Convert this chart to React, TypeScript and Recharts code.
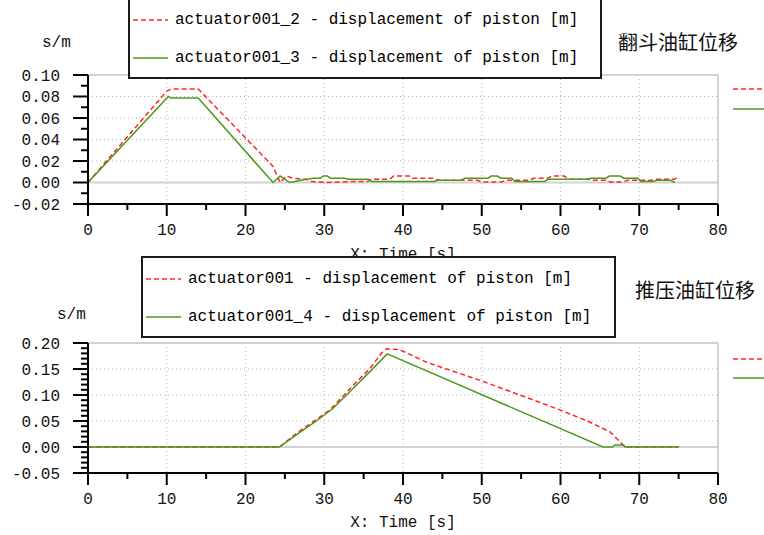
import React from 'react';
import { LineChart, Line, XAxis, YAxis, CartesianGrid, Legend } from 'recharts';

const MONO = '"Liberation Mono", "DejaVu Sans Mono", monospace';
const CJK = '"Noto Sans CJK SC", "Noto Sans", sans-serif';

const RED = '#ff2626';
const GREEN = '#4c9a1c';

// shared time axis
const xMajorTicks = [0, 10, 20, 30, 40, 50, 60, 70, 80];
const xMinorTicks = [5, 15, 25, 35, 45, 55, 65, 75];

// 翻斗油缸位移 (top panel)
const tipYMajor = [-0.02, 0, 0.02, 0.04, 0.06, 0.08, 0.1];
const tipYMinor = [-0.01, 0.01, 0.03, 0.05, 0.07, 0.09];

const tipRedTime = [0, 10, 10.6, 14, 23.5, 24.4, 25.2, 26, 27.7, 28.3, 30.4, 34, 35.5, 36, 38.3, 38.8, 40.8, 41.2, 44, 44.5, 49.5, 50, 52.5, 53, 56, 56.6, 58.4, 58.9, 60.5, 61, 63.5, 64, 65.8, 66.3, 68, 68.5, 71.5, 72, 74.5, 75];
const tipRedDisp = [0, 0.085, 0.087, 0.087, 0.015, 0, 0.006, 0.004, 0.003, 0.001, 0, 0.001, 0.001, 0.003, 0.003, 0.006, 0.006, 0.004, 0.004, 0.002, 0.002, 0.0005, 0.0005, 0.002, 0.002, 0.004, 0.004, 0.006, 0.006, 0.003, 0.003, 0.002, 0.002, 0.0005, 0.0005, 0.002, 0.002, 0.003, 0.003, 0.006];

const tipGreenTime = [0, 10.2, 10.6, 14, 23.5, 24.4, 25.6, 26.3, 27, 28.6, 29.5, 29.9, 30.4, 30.8, 32.6, 33, 35.6, 36, 44, 44.4, 47.4, 47.8, 50.8, 51.2, 52, 52.4, 53.8, 54.2, 58, 58.4, 63.4, 63.8, 65.8, 66.2, 67.6, 68, 69.8, 70.2, 71.8, 72.2, 74, 74.5];
const tipGreenDisp = [0, 0.08, 0.0785, 0.0785, 0, 0.006, 0, 0.001, 0.002, 0.004, 0.004, 0.006, 0.006, 0.004, 0.004, 0.003, 0.003, 0.001, 0.001, 0.002, 0.002, 0.004, 0.004, 0.006, 0.006, 0.004, 0.004, 0.001, 0.001, 0.003, 0.003, 0.004, 0.004, 0.006, 0.006, 0.004, 0.004, 0.001, 0.001, 0.002, 0.002, 0];

// 推压油缸位移 (bottom panel)
const pushYMajor = [-0.05, 0, 0.05, 0.1, 0.15, 0.2];
const pushYMinor = [-0.04, -0.03, -0.02, -0.01, 0.01, 0.02, 0.03, 0.04, 0.06, 0.07, 0.08, 0.09, 0.11, 0.12, 0.13, 0.14, 0.16, 0.17, 0.18, 0.19];

const pushRedTime = [0, 24.3, 26.9, 29, 30.7, 33.7, 35.8, 37.3, 37.9, 39.6, 43, 50, 55, 60, 63.7, 66.3, 68, 68.4, 75];
const pushRedDisp = [0, 0, 0.031, 0.053, 0.071, 0.119, 0.151, 0.181, 0.189, 0.187, 0.163, 0.127, 0.099, 0.071, 0.048, 0.029, 0.003, 0, 0];

const pushGreenTime = [0, 24.3, 26.9, 29, 31.1, 33.7, 35.8, 38, 65.4, 66.6, 66.9, 68, 68.2, 75];
const pushGreenDisp = [0, 0, 0.028, 0.05, 0.074, 0.113, 0.145, 0.179, 0, 0, 0.004, 0.004, 0, 0];

const toPoints = (time: number[], disp: number[]) => time.map((t, i) => ({ t, v: disp[i] }));

const isMajor = (list: number[], v: number) => list.some((m) => Math.abs(m - v) < 1e-9);

const YTick = ({ x, y, payload, majors }: any) => {
  const major = isMajor(majors, payload.value);
  return (
    <g>
      <line x1={x - (major ? 15 : 7)} y1={y} x2={x} y2={y} stroke="#000" strokeWidth={2} />
      {major && (
        <text x={x - 28} y={y} dy="0.35em" textAnchor="end" fontFamily={MONO} fontSize={16} fill="#111">
          {payload.value.toFixed(2)}
        </text>
      )}
    </g>
  );
};

const XTick = ({ x, y, payload }: any) => {
  const major = isMajor(xMajorTicks, payload.value);
  return (
    <g>
      <line x1={x} y1={y} x2={x} y2={y + (major ? 12 : 6)} stroke="#000" strokeWidth={2} />
      {major && (
        <text x={x} y={y + 25} dy="0.35em" textAnchor="middle" fontFamily={MONO} fontSize={16} fill="#111">
          {payload.value}
        </text>
      )}
    </g>
  );
};

const BoxLegend = ({ payload, box, stubTop, stubGap }: any) => (
  <div style={{ position: 'relative', width: '100%', height: '100%' }}>
    <div
      style={{
        position: 'absolute',
        left: box.left,
        top: box.top,
        width: box.width,
        height: box.height,
        border: '2px solid #1a1a1a',
        background: '#fff',
        boxSizing: 'border-box',
      }}
    >
      {(payload || []).map((entry: any, i: number) => (
        <div key={entry.value} style={{ position: 'absolute', left: 0, top: 11 + i * 38, height: 20, width: '100%' }}>
          <svg width={36} height={20} style={{ position: 'absolute', left: 3, top: 0 }}>
            <line x1={0} y1={10} x2={35} y2={10} stroke={entry.color} strokeWidth={1.5} strokeDasharray={entry.color === RED ? '5 3' : undefined} />
          </svg>
          <span style={{ position: 'absolute', left: 45, top: 0, lineHeight: '20px', fontFamily: MONO, fontSize: 16, color: '#000', whiteSpace: 'nowrap' }}>
            {entry.value}
          </span>
        </div>
      ))}
    </div>
    {(payload || []).map((entry: any, i: number) => (
      <svg key={'stub' + i} width={31} height={6} style={{ position: 'absolute', left: 733, top: stubTop + i * stubGap - 3 }}>
        <line x1={0} y1={3} x2={31} y2={3} stroke={entry.color} strokeWidth={1.5} strokeDasharray={entry.color === RED ? '5 3' : undefined} />
      </svg>
    ))}
  </div>
);

const Panel = ({ top, height, plotTop, axisHeight, yDomain, yMajor, yMinor, red, green, title, titleTop, titleLeft, unitTop, unitLeft, box, stubTop, stubGap, labelOffset }: any) => {
  const yTicks = [...yMajor, ...yMinor].sort((a, b) => a - b);
  const dotted = yMajor.filter((v: number) => v > 0 && v < yDomain[1] - 1e-9);
  return (
    <div style={{ position: 'absolute', left: 0, top, width: 764, height }}>
      <LineChart width={764} height={height} margin={{ top: plotTop, right: 46, left: 0, bottom: 0 }}>
        <CartesianGrid stroke="#b4b4b4" strokeDasharray="1 3" horizontalValues={dotted} verticalValues={[10, 20, 30, 40, 50, 60, 70]} />
        <CartesianGrid stroke="#d2d2d2" strokeWidth={2} horizontalValues={[0, yDomain[1]]} verticalValues={[80]} />
        <XAxis
          dataKey="t"
          type="number"
          domain={[0, 80]}
          ticks={[...xMajorTicks, ...xMinorTicks].sort((a, b) => a - b)}
          interval={0}
          height={axisHeight}
          tickSize={0}
          tickMargin={0}
          tickLine={false}
          axisLine={{ stroke: '#000', strokeWidth: 2 }}
          tick={<XTick />}
          label={{ value: 'X: Time [s]', position: 'insideBottom', offset: labelOffset, fontFamily: MONO, fontSize: 16, fill: '#111' }}
        />
        <YAxis
          type="number"
          domain={yDomain}
          ticks={yTicks}
          interval={0}
          width={88}
          tickSize={0}
          tickMargin={0}
          tickLine={false}
          axisLine={{ stroke: '#000', strokeWidth: 2 }}
          tick={<YTick majors={yMajor} />}
        />
        <Legend
          layout="vertical"
          align="center"
          verticalAlign="middle"
          wrapperStyle={{ left: 0, top: 0, width: 764, height }}
          content={(props: any) => <BoxLegend {...props} box={box} stubTop={stubTop} stubGap={stubGap} />}
        />
        <Line data={red.points} dataKey="v" name={red.name} type="linear" stroke={RED} strokeWidth={1.5} strokeDasharray="5 3" dot={false} isAnimationActive={false} />
        <Line data={green.points} dataKey="v" name={green.name} type="linear" stroke={GREEN} strokeWidth={1.5} dot={false} isAnimationActive={false} />
      </LineChart>
      <div style={{ position: 'absolute', left: titleLeft, top: titleTop, fontFamily: CJK, fontSize: 20, lineHeight: '20px', color: '#111', whiteSpace: 'nowrap' }}>{title}</div>
      <div style={{ position: 'absolute', left: unitLeft, top: unitTop, fontFamily: MONO, fontSize: 16, lineHeight: '16px', color: '#111' }}>s/m</div>
    </div>
  );
};

export default function App() {
  return (
    <div style={{ position: 'absolute', left: 0, top: 0, width: 764, height: 535, overflow: 'hidden', background: '#fff' }}>
      <Panel
        top={0}
        height={260}
        plotTop={75}
        axisHeight={56}
        yDomain={[-0.02, 0.1]}
        yMajor={tipYMajor}
        yMinor={tipYMinor}
        red={{ name: 'actuator001_2 - displacement of piston [m]', points: toPoints(tipRedTime, tipRedDisp) }}
        green={{ name: 'actuator001_3 - displacement of piston [m]', points: toPoints(tipGreenTime, tipGreenDisp) }}
        title="翻斗油缸位移"
        titleLeft={618}
        titleTop={32}
        unitLeft={42}
        unitTop={35}
        box={{ left: 128, top: -3, width: 474, height: 82 }}
        stubTop={89}
        stubGap={20}
        labelOffset={1}
      />
      <Panel
        top={250}
        height={285}
        plotTop={93}
        axisHeight={62}
        yDomain={[-0.05, 0.2]}
        yMajor={pushYMajor}
        yMinor={pushYMinor}
        red={{ name: 'actuator001 - displacement of piston [m]', points: toPoints(pushRedTime, pushRedDisp) }}
        green={{ name: 'actuator001_4 - displacement of piston [m]', points: toPoints(pushGreenTime, pushGreenDisp) }}
        title="推压油缸位移"
        titleLeft={635}
        titleTop={30}
        unitLeft={57}
        unitTop={57}
        box={{ left: 141, top: 6, width: 475, height: 82 }}
        stubTop={109}
        stubGap={19}
        labelOffset={8}
      />
    </div>
  );
}
